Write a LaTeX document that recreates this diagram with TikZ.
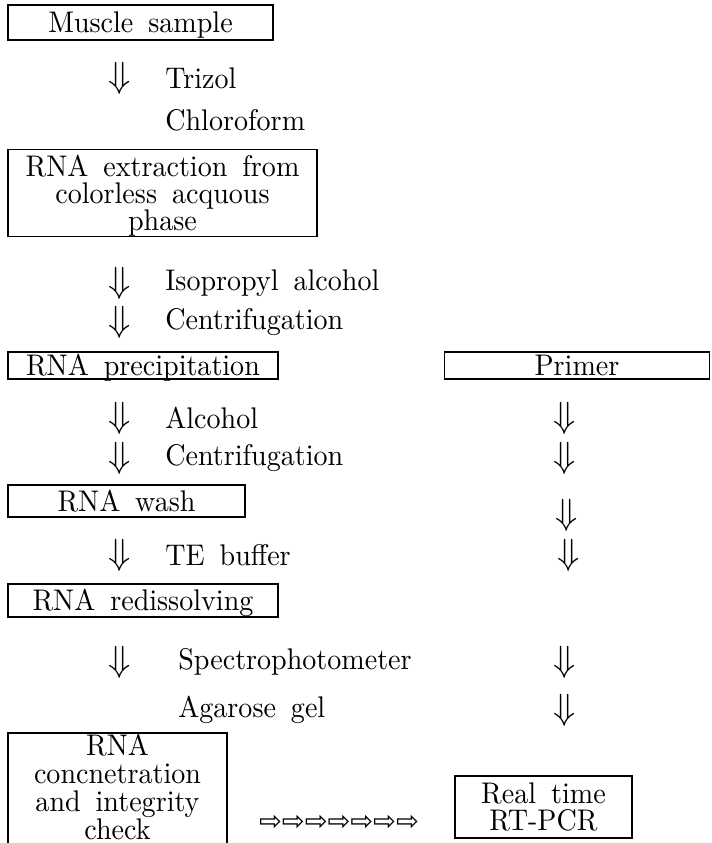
\documentclass[tikz,border=0pt]{standalone}
\usepackage{fontspec}
\setmainfont{lmroman10-regular.otf}[FakeStretch=0.94, WordSpace=1.6]
\newfontfamily\arrowfont{DejaVu Sans}
\usetikzlibrary{positioning}

\newcommand{\pxu}{0.02cm}

\begin{document}
\begin{tikzpicture}[x=0.02cm, y=-0.02cm,
        font=\fontsize{17}{15.4}\selectfont,
        box/.style 2 args={draw, line width=0.6pt, inner sep=0pt, align=center,
            text height=0.68em+5pt, text depth=0pt,
            minimum width=#1*\pxu, minimum height=#2*\pxu},
        lines/.style 2 args={text height=0.68em+5pt+#1*#2pt},
        step label/.style={anchor=west, inner sep=0pt},
        down/.style={inner sep=0pt, font=\fontsize{22}{22}\selectfont}]
    \useasboundingbox (0,0) rectangle (711,843);
    \clip (0,0) rectangle (711,843);

    % left column: extraction steps
    \node[box={265}{35}] (muscle) at (140.5,22.5) {Muscle sample};
    \node[down] (d1) at (120,78) {$\Downarrow$};
    \node[step label] (trizol) at (165,78) {Trizol};
    \node[step label] (chloro) at (165,120) {Chloroform};

    \node[box={309}{87}, lines={2}{15.4}] (extract) at (162.5,193)
        {RNA extraction from\\colorless acquous\\phase};
    \node[down] (d2) at (120,283) {$\Downarrow$};
    \node[step label] (isoprop) at (165,283) {Isopropyl alcohol};
    \node[down] (d3) at (120,322) {$\Downarrow$};
    \node[step label] (centA) at (165,322) {Centrifugation};

    \node[box={270}{27}] (precip) at (143,365.5) {RNA precipitation};
    \node[down] (d4) at (120,418) {$\Downarrow$};
    \node[step label] (alcohol) at (165,418) {Alcohol};
    \node[down] (d5) at (120,458) {$\Downarrow$};
    \node[step label] (centB) at (165,458) {Centrifugation};

    \node[box={237}{32}] (wash) at (126.5,501) {RNA wash};
    \node[down] (d6) at (120,555) {$\Downarrow$};
    \node[step label] (tebuf) at (165,555) {TE buffer};

    \node[box={270}{33}] (redis) at (143,600.5) {RNA redissolving};
    \node[down] (d7) at (120,662) {$\Downarrow$};
    \node[step label] (spectro) at (178,662) {Spectrophotometer};
    \node[step label] (agarose) at (178,710) {Agarose gel};

    \node[box={219}{113}, lines={3}{16}, text depth=3pt, font=\fontsize{17}{16}\selectfont]
        (check) at (117.5,789.5) {RNA\\concnetration\\and integrity\\check};

    % right column: primer to PCR
    \node[box={265}{27}] (primer) at (577,365.5) {Primer};
    \node[down] (r1) at (565,418) {$\Downarrow$};
    \node[down] (r2) at (565,458) {$\Downarrow$};
    \node[down] (r3) at (567,515) {$\Downarrow$};
    \node[down] (r4) at (569,555) {$\Downarrow$};
    \node[down] (r5) at (565,662) {$\Downarrow$};
    \node[down] (r6) at (565,710) {$\Downarrow$};

    \node[box={177}{62}, lines={1}{15.5}, font=\fontsize{17}{15.5}\selectfont] (pcr) at (543.5,807)
        {Real time\\RT-PCR};
    \node[inner sep=0pt, font=\arrowfont\fontsize{15.5}{15.5}\selectfont] (chain) at (339,823)
        {⇨⇨⇨⇨⇨⇨⇨};
\end{tikzpicture}
\end{document}
